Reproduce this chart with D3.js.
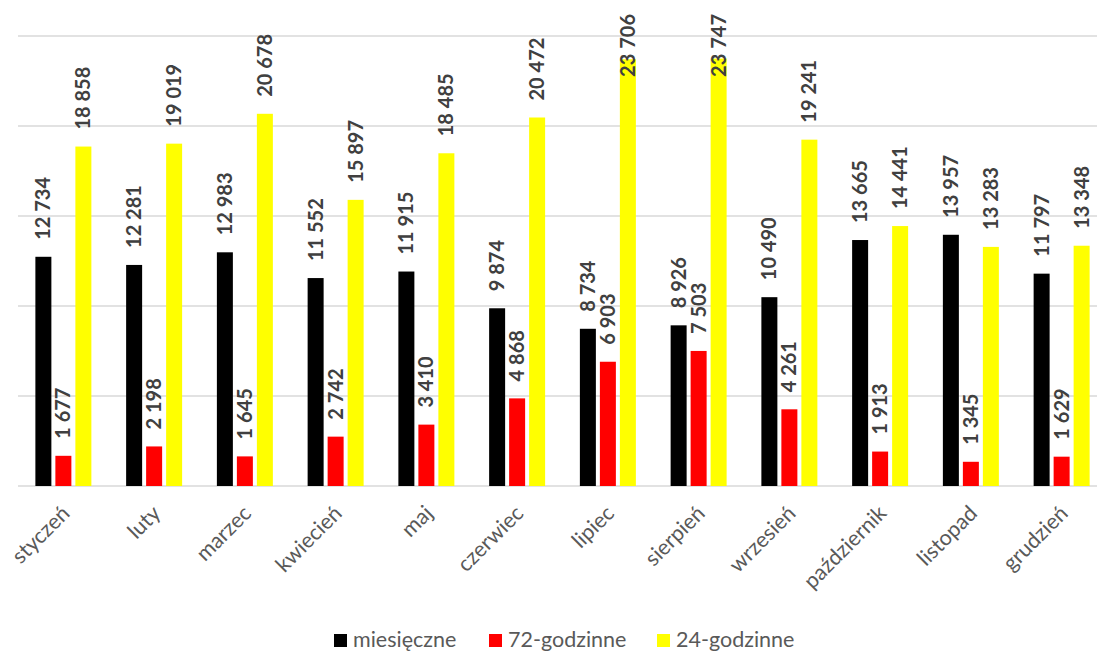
<!DOCTYPE html>
<html>
<head>
<meta charset="utf-8">
<script src="https://cdn.jsdelivr.net/npm/d3@7"></script>
<style>
  body { margin: 0; background: #fff; overflow: hidden; }
  svg { display: block; font-family: Lato, "Open Sans", sans-serif; }
</style>
</head>
<body>
<div id="chart"></div>
<script>
// 1: DATA
const months = ["styczeń", "luty", "marzec", "kwiecień", "maj", "czerwiec", "lipiec",
    "sierpień", "wrzesień", "październik", "listopad", "grudzień"];
const seriesNames = ["miesięczne", "72-godzinne", "24-godzinne"];
const monthly = [12734, 12281, 12983, 11552, 11915, 9874, 8734, 8926, 10490, 13665, 13957, 11797];
const hours72 = [1677, 2198, 1645, 2742, 3410, 4868, 6903, 7503, 4261, 1913, 1345, 1629];
const hours24 = [18858, 19019, 20678, 15897, 18485, 20472, 23706, 23747, 19241, 14441, 13283, 13348];
const yTicks = [0, 5000, 10000, 15000, 20000, 25000];
const colors = ["#000000", "#ff0000", "#ffff00"];

const seriesValues = [monthly, hours72, hours24];

// 2: SVG + SCALES
const W = 1097, H = 651;
const svg = d3.select("#chart").append("svg")
    .attr("width", W)
    .attr("height", H);

const x0 = d3.scaleBand()
    .domain(months)
    .range([18, 1107])
    .paddingInner(0.383)
    .paddingOuter(0.1915);

const x1 = d3.scaleBand()
    .domain(seriesNames)
    .range([0, x0.bandwidth()])
    .paddingInner(0.2);

const y = d3.scaleLinear()
    .domain([0, 25000])
    .range([486, 36]);

const fmt = v => d3.format(",")(v).replace(/,/g, " ");

// gridlines
svg.append("g")
    .selectAll("line")
    .data(yTicks)
    .join("line")
    .attr("x1", 18)
    .attr("x2", 1107)
    .attr("y1", d => y(d))
    .attr("y2", d => y(d))
    .attr("stroke", "#d9d9d9")
    .attr("stroke-width", 1.5);

// 3: BARS
const rows = months.map((m, i) => ({ month: m, vals: seriesNames.map((s, k) => ({ s, k, v: seriesValues[k][i] })) }));

const groups = svg.append("g")
    .selectAll("g")
    .data(rows)
    .join("g")
    .attr("transform", d => `translate(${x0(d.month)},0)`);

groups.selectAll("rect")
    .data(d => d.vals)
    .join("rect")
    .attr("x", d => x1(d.s))
    .attr("y", d => y(d.v))
    .attr("width", x1.bandwidth())
    .attr("height", d => y(0) - y(d.v))
    .attr("fill", d => colors[d.k]);

// data labels, rotated; pushed down when they would leave the top
groups.selectAll("text")
    .data(d => d.vals)
    .join("text")
    .attr("font-size", 20)
    .attr("font-weight", "bold")
    .attr("fill", "#404040")
    .attr("dy", "0.35em")
    .text(d => fmt(d.v))
    .each(function(d) {
        const len = this.getComputedTextLength();
        const end = Math.max(y(d.v) - 17, 14 + len);
        const cx = x1(d.s) + x1.bandwidth() / 2;
        d3.select(this).attr("transform", `translate(${cx},${end}) rotate(-90)`);
    });

// 4: X AXIS LABELS
svg.append("g")
    .selectAll("text")
    .data(months)
    .join("text")
    .attr("transform", d => `translate(${x0(d) + x0.bandwidth() / 2 - 3},${504}) rotate(-45)`)
    .attr("text-anchor", "end")
    .attr("dy", "0.7em")
    .attr("font-size", 21.5)
    .attr("fill", "#595959")
    .text(d => d);

// 5: LEGEND
const legendX = [334, 489, 657];
const legend = svg.append("g")
    .selectAll("g")
    .data(seriesNames)
    .join("g")
    .attr("transform", (d, i) => `translate(${legendX[i]},634)`);

legend.append("rect")
    .attr("width", 13)
    .attr("height", 13)
    .attr("fill", (d, i) => colors[i]);

legend.append("text")
    .attr("x", 19)
    .attr("y", 13)
    .attr("font-size", 21.5)
    .attr("fill", "#595959")
    .text(d => d);
</script>
</body>
</html>
